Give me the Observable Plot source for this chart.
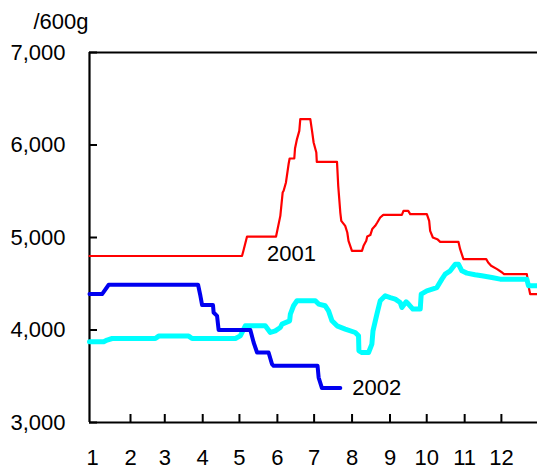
<!DOCTYPE html>
<html>
<head>
<meta charset="utf-8">
<script src="https://cdn.jsdelivr.net/npm/d3@7"></script>
<script src="https://cdn.jsdelivr.net/npm/@observablehq/plot@0.6"></script>
<style>
  html, body { margin: 0; padding: 0; background: #fff; }
  #chart { width: 537px; height: 470px; }
</style>
</head>
<body>
<div id="chart"></div>
<script>
// ---- data (day of year, price per 600g) ----
const days2001 = [-2.5, 122.1, 123.2, 126.2, 149.9, 153.4, 155.3, 156.1, 158.0, 160.2, 161.0, 164.8, 165.4, 167.0, 168.9, 169.7, 177.9, 179.3, 180.6, 182.8, 183.2, 199.7, 200.7, 202.4, 203.2, 206.4, 208.1, 209.1, 211.9, 220.1, 221.4, 223.6, 224.4, 226.9, 228.5, 230.9, 232.6, 235.0, 237.5, 252.7, 254.0, 257.9, 259.5, 273.1, 275.0, 275.8, 278.0, 281.6, 284.0, 298.9, 300.3, 303.0, 321.6, 323.2, 325.6, 330.5, 334.6, 336.2, 354.8, 356.1, 357.5, 363.5];
const values2001 = [4800, 4800, 4855, 5010, 5010, 5234, 5486, 5505, 5595, 5797, 5854, 5854, 5962, 6064, 6153, 6280, 6280, 6153, 6027, 5919, 5818, 5818, 5559, 5270, 5180, 5126, 5054, 4964, 4856, 4856, 4910, 4964, 5011, 5026, 5091, 5126, 5162, 5216, 5245, 5245, 5288, 5288, 5253, 5253, 5180, 5072, 5000, 4982, 4953, 4953, 4874, 4766, 4766, 4730, 4694, 4658, 4622, 4604, 4604, 4478, 4388, 4388];

const daysAvg = [-2.5, 9.1, 11.9, 16.0, 51.3, 54.0, 78.5, 81.3, 116.7, 120.7, 124.8, 141.1, 145.2, 149.3, 153.4, 154.8, 161.0, 161.6, 164.2, 167.0, 182.0, 184.7, 190.1, 192.8, 195.6, 199.7, 206.4, 214.6, 217.3, 217.6, 220.1, 225.5, 228.2, 229.1, 232.3, 235.0, 239.1, 243.2, 247.3, 251.3, 252.7, 256.2, 258.1, 261.7, 267.7, 268.5, 273.1, 281.3, 285.4, 288.1, 292.2, 296.3, 298.9, 301.7, 305.8, 312.5, 318.0, 326.2, 333.0, 354.8, 356.1, 363.5];
const valuesAvg = [3872, 3872, 3891, 3908, 3908, 3934, 3934, 3908, 3908, 3937, 4045, 4045, 3973, 3991, 4027, 4064, 4099, 4172, 4262, 4316, 4316, 4280, 4262, 4207, 4099, 4045, 4010, 3973, 3937, 3775, 3757, 3757, 3848, 3991, 4172, 4316, 4370, 4351, 4334, 4297, 4243, 4305, 4280, 4226, 4226, 4388, 4424, 4459, 4550, 4604, 4640, 4712, 4712, 4640, 4615, 4597, 4586, 4568, 4550, 4550, 4478, 4478];

const days2002 = [-2.5, 7.8, 13.2, 86.2, 88.1, 89.5, 98.4, 98.9, 101.7, 103.0, 128.9, 131.6, 134.4, 143.8, 146.6, 147.9, 183.8, 184.7, 187.4, 202.4];
const values2002 = [4388, 4388, 4489, 4489, 4370, 4269, 4269, 4189, 4153, 3999, 3999, 3865, 3757, 3757, 3631, 3613, 3613, 3486, 3372, 3372];

const monthLabels = ["1", "2", "3", "4", "5", "6", "7", "8", "9", "10", "11", "12"];
const monthStartDays = [0, 31, 59, 90, 120, 151, 181, 212, 243, 273, 304, 334];
const yTicks = [3000, 4000, 5000, 6000, 7000];
const unitLabel = "/600g";
const seriesLabels = ["2001", "2002"];
const seriesLabelDays = [142.5, 212.2];
const seriesLabelValues = [4820, 3378];

// ---- build tables ----
const toRows = (days, values) => days.map((d, i) => ({day: d, value: values[i]}));
const rows2001 = toRows(days2001, values2001);
const rowsAvg = toRows(daysAvg, valuesAvg);
const rows2002 = toRows(days2002, values2002);
const labelRows = seriesLabels.map((t, i) => ({text: t, day: seriesLabelDays[i], value: seriesLabelValues[i]}));

const W = 537, H = 470, ML = 89, MR = 0, MT = 52, MB = 48;
const TICK = 8;
const FONT = "'Liberation Sans', Arial, Helvetica, sans-serif";

const chart = Plot.plot({
  width: W,
  height: H,
  marginLeft: ML,
  marginRight: MR,
  marginTop: MT,
  marginBottom: MB,
  style: {fontFamily: FONT, fontSize: "22px", color: "#000", background: "#fff", overflow: "visible"},
  x: {domain: [-2.5, 363.5]},
  y: {domain: [3000, 7000]},
  marks: [
    // inward ticks
    Plot.tickY(yTicks, {y: d => d, stroke: "#000", strokeWidth: 2, insetRight: W - ML - MR - TICK}),
    Plot.tickX(monthStartDays.slice(1), {x: d => d, stroke: "#000", strokeWidth: 2, insetTop: H - MT - MB - TICK}),
    // axis lines
    Plot.ruleX([-2.5], {stroke: "#000", strokeWidth: 2.2}),
    Plot.ruleY([3000, 7000], {stroke: "#000", strokeWidth: 2.2}),
    // labels
    Plot.axisY({ticks: yTicks, tickFormat: d3.format(","), tickSize: 0, tickPadding: 24, label: null}),
    Plot.axisX({ticks: monthStartDays, tickFormat: d => monthLabels[monthStartDays.indexOf(d)], tickSize: 0, tickPadding: 27, label: null}),
    // series
    Plot.line(rows2001, {x: "day", y: "value", stroke: "#ff0000", strokeWidth: 2.2}),
    Plot.line(rowsAvg, {x: "day", y: "value", stroke: "#00ffff", strokeWidth: 5}),
    Plot.line(rows2002, {x: "day", y: "value", stroke: "#0000f0", strokeWidth: 4}),
    // annotations
    Plot.text(labelRows, {x: "day", y: "value", text: "text", textAnchor: "start", lineAnchor: "middle", fill: "#000"}),
    Plot.text([unitLabel], {frameAnchor: "top-left", text: d => d, dx: -56, dy: -31, textAnchor: "start", lineAnchor: "middle", fill: "#000"})
  ]
});
document.getElementById("chart").appendChild(chart);
</script>
</body>
</html>
